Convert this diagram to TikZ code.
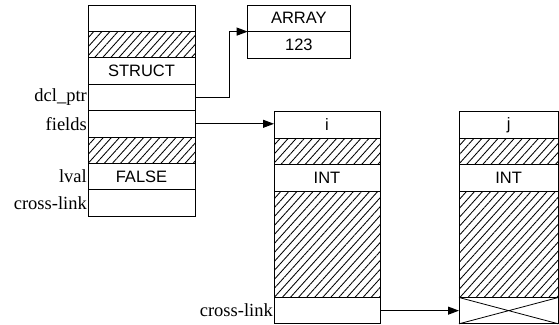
\documentclass[tikz,border=0pt]{standalone}
\usepackage{fontspec}
\setmainfont{Liberation Serif}
\newfontfamily\arialfont{Liberation Sans}
\usetikzlibrary{patterns.meta,arrows.meta}
\tikzset{
  cell/.style={draw, line width=1pt, inner sep=0pt, outer sep=0pt, anchor=north west,
    font=\arialfont\fontsize{16.5}{18}\selectfont},
  hatchcell/.style={cell, pattern={Lines[angle=48,distance=6pt,line width=0.85pt]}},
  lab/.style={anchor=east, inner sep=1pt, font=\fontsize{18.5}{20}\selectfont},
  arr/.style={line width=1pt, -{Triangle[length=11pt,width=8pt]}},
  thin/.style={line width=0.8pt}
}
\begin{document}
\begin{tikzpicture}[x=1pt,y=-1pt]
\useasboundingbox (0,0) rectangle (559,324);
% left column
\begin{scope}[every node/.append style={minimum width=107pt, minimum height=26.4pt}]
\node[cell] (a0) at (88,5) {};
\node[hatchcell] (a1) at (a0.south west) {};
\node[cell] (a2) at (a1.south west) {STRUCT};
\node[cell] (a3) at (a2.south west) {};
\node[cell] (a4) at (a3.south west) {};
\node[hatchcell] (a5) at (a4.south west) {};
\node[cell] (a6) at (a5.south west) {FALSE};
\node[cell] (a7) at (a6.south west) {};
\end{scope}
\node[lab] (ldcl) at (a3.west) {dcl\_ptr};
\node[lab] (lfields) at (a4.west) {fields};
\node[lab] (llval) at (a6.west) {lval};
\node[lab] (lcross) at (a7.west) {cross-link};
% array box
\begin{scope}[every node/.append style={minimum width=102.3pt, minimum height=26.6pt}]
\node[cell] (ar0) at (247.7,5) {ARRAY};
\node[cell] (ar1) at (ar0.south west) {123};
\end{scope}
% middle column
\begin{scope}[every node/.append style={minimum width=106pt}]
\node[cell, minimum height=26.5pt] (m0) at (274,111.5) {i};
\node[hatchcell, minimum height=26.5pt] (m1) at (m0.south west) {};
\node[cell, minimum height=26.5pt] (m2) at (m1.south west) {INT};
\node[hatchcell, minimum height=106.5pt] (m3) at (m2.south west) {};
\node[cell, minimum height=26.3pt] (m4) at (m3.south west) {};
\end{scope}
\node[lab] (lcross2) at (m4.west) {cross-link};
% right column
\begin{scope}[every node/.append style={minimum width=99.3pt}]
\node[cell, minimum height=26.5pt] (r0) at (459,111.5) {j};
\node[hatchcell, minimum height=26.5pt] (r1) at (r0.south west) {};
\node[cell, minimum height=26.5pt] (r2) at (r1.south west) {INT};
\node[hatchcell, minimum height=106.5pt] (r3) at (r2.south west) {};
\node[cell, minimum height=26.3pt] (r4) at (r3.south west) {};
\end{scope}
\draw[thin] (r4.north west) -- (r4.south east) (r4.south west) -- (r4.north east);
% connectors
\coordinate (bend) at (229,0);
\draw[arr] (a3.east) -| (bend |- ar0.south west) -- (ar0.south west);
\draw[arr] (a4.east) -- (a4.east -| m0.west);
\draw[arr] (m4.east) -- (r4.west);
\end{tikzpicture}
\end{document}
